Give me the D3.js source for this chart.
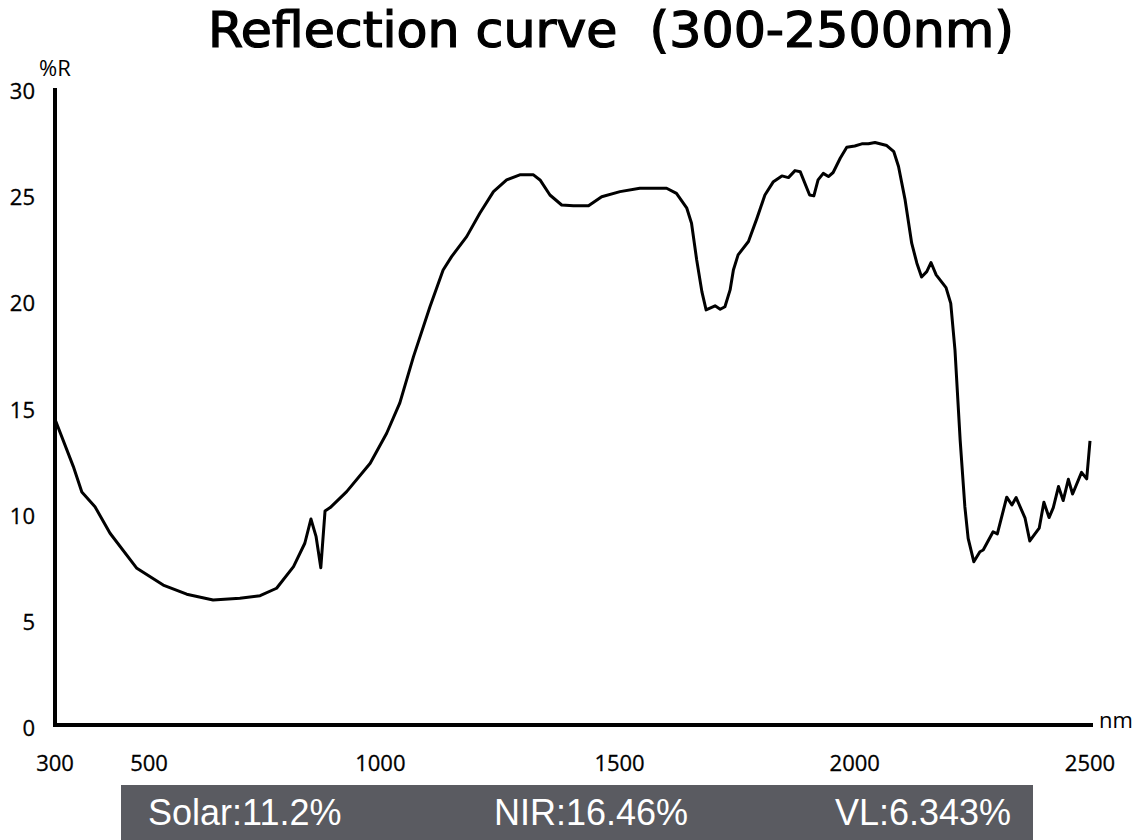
<!DOCTYPE html>
<html>
<head>
<meta charset="utf-8">
<script src="https://cdn.jsdelivr.net/npm/d3@7"></script>
<style>
  body { margin: 0; background: #fff; }
  svg { display: block; }
</style>
</head>
<body>
<div id="chart"></div>
<script>
// wavelength (nm) and reflectance (%R)
var wavelength = [300, 339, 357, 385, 417, 474, 530, 580, 636, 693, 736, 771, 807, 831, 844, 855, 865, 874, 885,
    920, 970, 1005, 1033, 1062, 1097, 1125, 1143, 1175, 1203, 1232, 1260, 1288, 1317, 1331, 1352, 1377, 1402,
    1434, 1462, 1501, 1543, 1600, 1621, 1643, 1653, 1664, 1675, 1684, 1703, 1714, 1724, 1735, 1742, 1752,
    1774, 1792, 1809, 1827, 1845, 1859, 1873, 1884, 1904, 1913, 1922, 1933, 1944, 1954, 1969, 1983, 2000,
    2015, 2029, 2043, 2068, 2083, 2093, 2107, 2121, 2132, 2142, 2153, 2162, 2173, 2194, 2204, 2213, 2224,
    2234, 2241, 2253, 2266, 2273, 2294, 2303, 2323, 2334, 2343, 2362, 2372, 2392, 2402, 2413, 2422, 2433,
    2443, 2454, 2463, 2482, 2493, 2500];
var reflectance = [14.4, 12.17, 10.97, 10.28, 9.03, 7.38, 6.59, 6.16, 5.89, 5.97, 6.09, 6.44, 7.46, 8.56, 9.7, 8.87, 7.41, 10.08, 10.24,
    10.99, 12.33, 13.74, 15.17, 17.35, 19.7, 21.43, 22.06, 23.0, 24.1, 25.12, 25.67, 25.91, 25.91, 25.67, 24.96, 24.49, 24.45,
    24.45, 24.88, 25.12, 25.28, 25.28, 25.04, 24.34, 23.63, 21.9, 20.41, 19.55, 19.74, 19.58, 19.7, 20.49, 21.43, 22.14,
    22.77, 23.86, 24.96, 25.59, 25.86, 25.78, 26.11, 26.06, 24.96, 24.92, 25.67, 25.98, 25.83, 26.02, 26.69, 27.21, 27.27,
    27.37, 27.37, 27.43, 27.29, 27.0, 26.3, 24.73, 22.69, 21.75, 21.1, 21.35, 21.78, 21.2, 20.6, 19.86, 17.66, 13.42,
    10.28, 8.79, 7.69, 8.16, 8.24, 9.1, 9.0, 10.73, 10.36, 10.71, 9.74, 8.67, 9.27, 10.49, 9.77, 10.24, 11.23,
    10.57, 11.57, 10.88, 11.9, 11.59, 13.38];

var xTicks = [300, 500, 1000, 1500, 2000, 2500];
var yTicks = [0, 5, 10, 15, 20, 25, 30];

var summaryLabels = ["Solar:11.2%", "NIR:16.46%", "VL:6.343%"];

var svgWidth = 1147;
var svgHeight = 840;

var svg = d3.select("#chart")
    .append("svg")
    .attr("width", svgWidth)
    .attr("height", svgHeight);

// scales (axis origin at 55,725)
var xScale = d3.scaleLinear().domain([300, 2500]).range([55, 1090]);
var yScale = d3.scaleLinear().domain([0, 30]).range([725, 88]);

// title
svg.append("text")
    .attr("x", 208)
    .attr("y", 47)
    .attr("font-family", "'DejaVu Sans Condensed', 'DejaVu Sans', sans-serif")
    .attr("font-size", 50)
    .attr("textLength", 806)
    .attr("lengthAdjust", "spacingAndGlyphs")
    .attr("fill", "#000")
    .attr("stroke", "#000")
    .attr("stroke-width", 1.2)
    .text("Reflection curve\u00a0\u00a0(300-2500nm)");

// axes lines
svg.append("line")
    .attr("x1", xScale(300)).attr("x2", xScale(300))
    .attr("y1", yScale(30)).attr("y2", yScale(0) + 2)
    .attr("stroke", "#000").attr("stroke-width", 4);

svg.append("line")
    .attr("x1", xScale(300) - 2).attr("x2", 1093)
    .attr("y1", yScale(0)).attr("y2", yScale(0))
    .attr("stroke", "#000").attr("stroke-width", 4);

// y tick labels
svg.selectAll(".ylab")
    .data(yTicks)
    .enter()
    .append("text")
    .attr("class", "ylab")
    .attr("x", 35)
    .attr("y", d => yScale(d) + 2)
    .attr("text-anchor", "end")
    .attr("dominant-baseline", "central")
    .attr("font-family", "'Open Sans', sans-serif")
    .attr("font-size", 22)
    .attr("stroke", "#000")
    .attr("stroke-width", 0.3)
    .text(d => d);

// x tick labels
svg.selectAll(".xlab")
    .data(xTicks)
    .enter()
    .append("text")
    .attr("class", "xlab")
    .attr("x", d => xScale(d) - (d === 1000 ? 4 : 0))
    .attr("y", 762)
    .attr("text-anchor", "middle")
    .attr("dominant-baseline", "central")
    .attr("font-family", "'Open Sans', sans-serif")
    .attr("font-size", 22)
    .attr("stroke", "#000")
    .attr("stroke-width", 0.3)
    .text(d => d);

// unit labels
svg.append("text")
    .attr("x", 39)
    .attr("y", 67)
    .attr("dominant-baseline", "central")
    .attr("font-family", "'Open Sans', sans-serif")
    .attr("font-size", 22)
    .text("%R");

svg.append("text")
    .attr("x", 1099)
    .attr("y", 719)
    .attr("dominant-baseline", "central")
    .attr("font-family", "'Open Sans', sans-serif")
    .attr("font-size", 22)
    .text("nm");

// reflection curve
var points = wavelength.map((w, i) => [w, reflectance[i]]);
var line = d3.line()
    .x(d => xScale(d[0]))
    .y(d => yScale(d[1]));

svg.append("path")
    .datum(points)
    .attr("d", line)
    .attr("fill", "none")
    .attr("stroke", "#000")
    .attr("stroke-width", 3)
    .attr("stroke-linejoin", "round");

// summary bar
svg.append("rect")
    .attr("x", 121)
    .attr("y", 785)
    .attr("width", 912)
    .attr("height", 60)
    .attr("fill", "#5a5b61");

var summaryX = [148, 494, 835];
svg.selectAll(".summary")
    .data(summaryLabels)
    .enter()
    .append("text")
    .attr("class", "summary")
    .attr("x", (d, i) => summaryX[i])
    .attr("y", 825)
    .attr("font-family", "'Liberation Sans', Arial, sans-serif")
    .attr("font-size", 36)
    .attr("fill", "#fff")
    .text(d => d);
</script>
</body>
</html>
